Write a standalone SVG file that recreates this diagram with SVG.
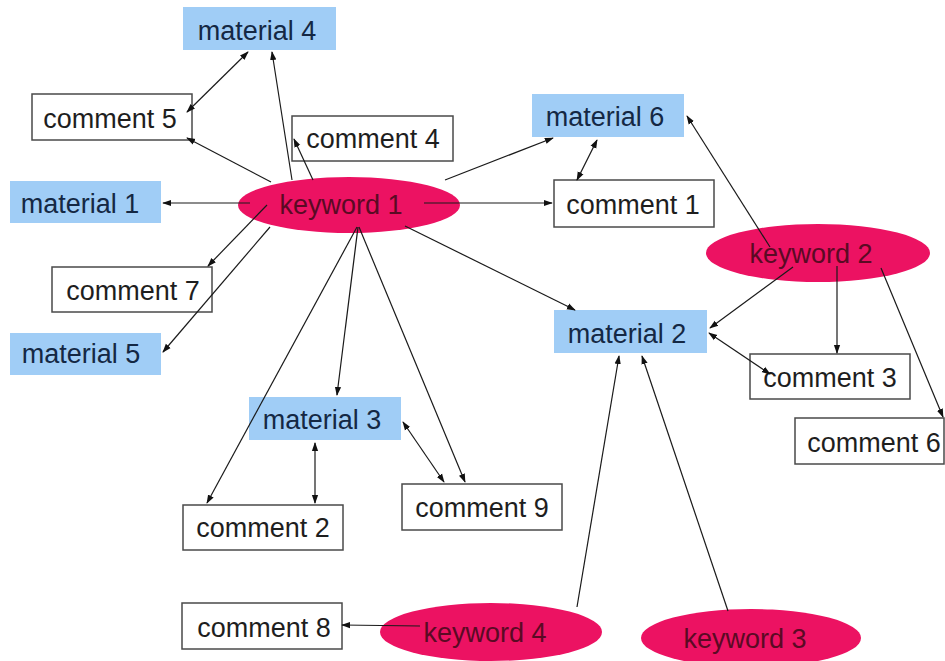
<svg xmlns="http://www.w3.org/2000/svg" width="945" height="661" viewBox="0 0 945 661">
<defs>
<style>
.mat{fill:#A0CDF6;stroke:none}
.com{fill:#fff;stroke:#4a4a4a;stroke-width:1.5}
.kw{fill:#EC1262;stroke:none}
text{font-family:"Liberation Sans",Arial,sans-serif;font-size:27px;text-anchor:middle}
.tm{fill:#142844}
.tc{fill:#1e1e1e}
.tk{fill:#5a0a24}
.c line{stroke:#1a1a1a;stroke-width:1.2;fill:none;marker-end:url(#ah)}
.c line.d{marker-start:url(#ah)}
</style>
<marker id="ah" viewBox="0 0 10 10" refX="9" refY="5" markerWidth="9" markerHeight="9" markerUnits="userSpaceOnUse" orient="auto-start-reverse">
<path d="M0,1.5 L10,5 L0,8.5 Z" fill="#111"/>
</marker>
</defs>
<rect width="945" height="661" fill="#fff"/>

<g id="material4"><rect class="mat" x="183" y="7" width="153" height="43"/><text class="tm" x="257" y="40">material 4</text></g>
<g id="comment5"><rect class="com" x="32" y="94" width="160" height="46"/><text class="tc" x="110" y="128">comment 5</text></g>
<g id="comment4"><rect class="com" x="292" y="116" width="161" height="45"/><text class="tc" x="373" y="148">comment 4</text></g>
<g id="material1"><rect class="mat" x="10" y="181" width="151" height="42"/><text class="tm" x="80" y="213">material 1</text></g>
<g id="keyword1"><ellipse class="kw" cx="349" cy="205" rx="111" ry="28"/><text class="tk" x="341" y="214">keyword 1</text></g>
<g id="material6"><rect class="mat" x="532" y="94" width="152" height="43"/><text class="tm" x="605" y="126">material 6</text></g>
<g id="comment1"><rect class="com" x="554" y="180" width="160" height="47"/><text class="tc" x="633" y="214">comment 1</text></g>
<g id="keyword2"><ellipse class="kw" cx="818" cy="253" rx="112" ry="29"/><text class="tk" x="811" y="263">keyword 2</text></g>
<g id="material2"><rect class="mat" x="554" y="310" width="153" height="43"/><text class="tm" x="627" y="343">material 2</text></g>
<g id="comment3"><rect class="com" x="750" y="354" width="160" height="45"/><text class="tc" x="830" y="387">comment 3</text></g>
<g id="comment6"><rect class="com" x="795" y="418" width="149" height="46"/><text class="tc" x="874" y="452">comment 6</text></g>
<g id="comment7"><rect class="com" x="52" y="267" width="160" height="45"/><text class="tc" x="133" y="300">comment 7</text></g>
<g id="material5"><rect class="mat" x="10" y="333" width="151" height="42"/><text class="tm" x="81" y="363">material 5</text></g>
<g id="material3"><rect class="mat" x="249" y="397" width="152" height="43"/><text class="tm" x="322" y="429">material 3</text></g>
<g id="comment2"><rect class="com" x="183" y="505" width="160" height="45"/><text class="tc" x="263" y="537">comment 2</text></g>
<g id="comment9"><rect class="com" x="402" y="484" width="160" height="46"/><text class="tc" x="482" y="517">comment 9</text></g>
<g id="comment8"><rect class="com" x="182" y="603" width="160" height="46"/><text class="tc" x="264" y="637">comment 8</text></g>
<g id="keyword4"><ellipse class="kw" cx="491" cy="632" rx="111" ry="29"/><text class="tk" x="485" y="642">keyword 4</text></g>
<g id="keyword3"><ellipse class="kw" cx="751" cy="638" rx="110" ry="29"/><text class="tk" x="745" y="648">keyword 3</text></g>

<g id="connectors" class="c">
<line x1="292" y1="180" x2="272" y2="52"/>
<line class="d" x1="187" y1="112" x2="248" y2="52"/>
<line x1="271" y1="182" x2="187" y2="138"/>
<line x1="313" y1="180" x2="294" y2="139"/>
<line x1="250" y1="203" x2="163" y2="203"/>
<line x1="424" y1="203" x2="552" y2="203"/>
<line x1="445" y1="180" x2="553" y2="138"/>
<line class="d" x1="597" y1="140" x2="577" y2="180"/>
<line x1="770" y1="247" x2="687" y2="116"/>
<line x1="405" y1="226" x2="575" y2="310"/>
<line x1="793" y1="267" x2="710" y2="328"/>
<line x1="837" y1="266" x2="837" y2="353"/>
<line x1="881" y1="268" x2="943" y2="417"/>
<line class="d" x1="709" y1="333" x2="770" y2="374"/>
<line x1="577" y1="607" x2="619" y2="356"/>
<line x1="728" y1="611" x2="642" y2="356"/>
<line x1="420" y1="626" x2="342" y2="625"/>
<line x1="267" y1="205" x2="208" y2="266"/>
<line x1="270" y1="227" x2="163" y2="352"/>
<line x1="358" y1="227" x2="337" y2="395"/>
<line x1="357" y1="227" x2="207" y2="503"/>
<line x1="359" y1="227" x2="465" y2="482"/>
<line class="d" x1="403" y1="422" x2="444" y2="482"/>
<line class="d" x1="315" y1="443" x2="315" y2="503"/>
</g>
</svg>
